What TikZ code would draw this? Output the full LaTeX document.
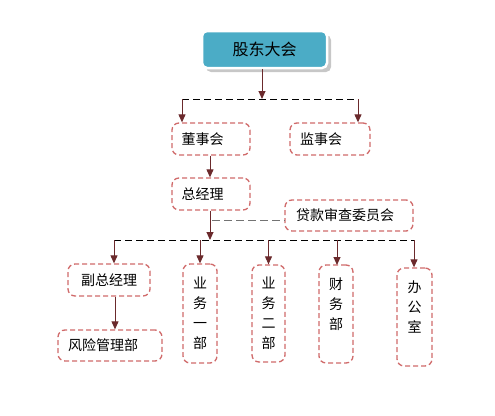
\documentclass[tikz,border=0pt]{standalone}
\usepackage{fontspec}
\setmainfont{Noto Sans CJK SC}
\usetikzlibrary{arrows.meta,positioning,calc}

\definecolor{teal1}{HTML}{4BACC6}
\definecolor{boxred}{HTML}{D06A6A}
\definecolor{arrred}{HTML}{6B2A2C}

\begin{document}
\begin{tikzpicture}[
  x=1pt, y=-1pt,
  font=\fontsize{14}{20}\selectfont,
  top/.style={draw=white, line width=2.5pt, rounded corners=5pt, fill=teal1, minimum width=125pt,
              minimum height=37pt, inner sep=0pt, font=\fontsize{16}{20}\selectfont},
  unit/.style={draw=boxred, line width=1.3pt, dash pattern=on 5pt off 3pt, rounded corners=7pt,
               fill=white, inner sep=0pt, align=center},
  pad/.style={execute at end node={\hspace*{#1}}},
  link/.style={draw=arrred, line width=1pt, -{Triangle[width=7pt,length=8pt]}},
  bus/.style={draw=black, line width=1pt, dash pattern=on 7pt off 4pt},
  side/.style={draw=black!55, line width=1.3pt, dash pattern=on 8pt off 4pt}
]
\useasboundingbox (0,0) rectangle (495,415);

% shareholders
\fill[black!22, rounded corners=5pt] (206,35) rectangle (331,72);
\node[top] (gd) at (264.5,49.5) {股东大会};

% board level
\node[unit, pad=17pt, minimum width=78pt, minimum height=32pt] (dsh) at (211,139) {董事会};
\node[unit, pad=18pt, minimum width=80pt, minimum height=32pt] (jsh) at (330,139) {监事会};
\node[unit, pad=17pt, minimum width=78pt, minimum height=32pt] (zjl) at (211,194) {总经理};
\node[unit, pad=8pt, minimum width=128pt, minimum height=31pt] (dkw) at (349,215.5) {贷款审查委员会};

% departments
\node[unit, minimum width=82pt, minimum height=32pt] (fzjl) at (109,280) {副总经理};
\node[unit, pad=14pt, minimum width=104pt, minimum height=31pt] (fxgl) at (110,345.5) {风险管理部};
\node[unit, minimum width=34pt, minimum height=99pt] (yw1) at (200,313.5) {业\\务\\一\\部};
\node[unit, minimum width=33pt, minimum height=97pt] (yw2) at (268.5,313.5) {业\\务\\二\\部};
\node[unit, minimum width=34pt, minimum height=98pt] (cwb) at (336,314) {财\\务\\部\\~};
\node[unit, minimum width=35pt, minimum height=98pt] (bgs) at (414.5,317) {办\\公\\室\\~};

% bus points
\coordinate (b1) at (262,99);
\coordinate (b1l) at (182,99);
\coordinate (b1r) at (358,99);
\coordinate (b2) at (210,240);
\coordinate (b2l) at (114,240);
\coordinate (b2r) at (414,240);
\coordinate (kw) at (212,220.5);

% connectors
\draw[bus] (b1l) -- (b1r);
\draw[link] (gd.south -| b1) -- (b1);
\draw[link] (b1l) -- (b1l |- dsh.north);
\draw[link] (b1r) -- (b1r |- jsh.north);
\draw[link] ($(dsh.south)+(-1,0)$) -- ($(zjl.north)+(-1,0)$);

\draw[side] (kw) -- (kw -| dkw.west);
\draw[bus] (b2l) -- (b2r);
\draw[link] (zjl.south -| b2) -- (b2);
\draw[link] (b2l) -- (b2l |- fzjl.north);
\draw[link] (yw1.north |- b2) -- (yw1.north);
\draw[link] (yw2.north |- b2) -- (yw2.north);
\draw[link] (337,240) -- (337,265);
\draw[link] (b2r) -- (b2r |- bgs.north);
\draw[link] (fzjl.south -| 115,0) -- (fxgl.north -| 115,0);
\end{tikzpicture}
\end{document}
